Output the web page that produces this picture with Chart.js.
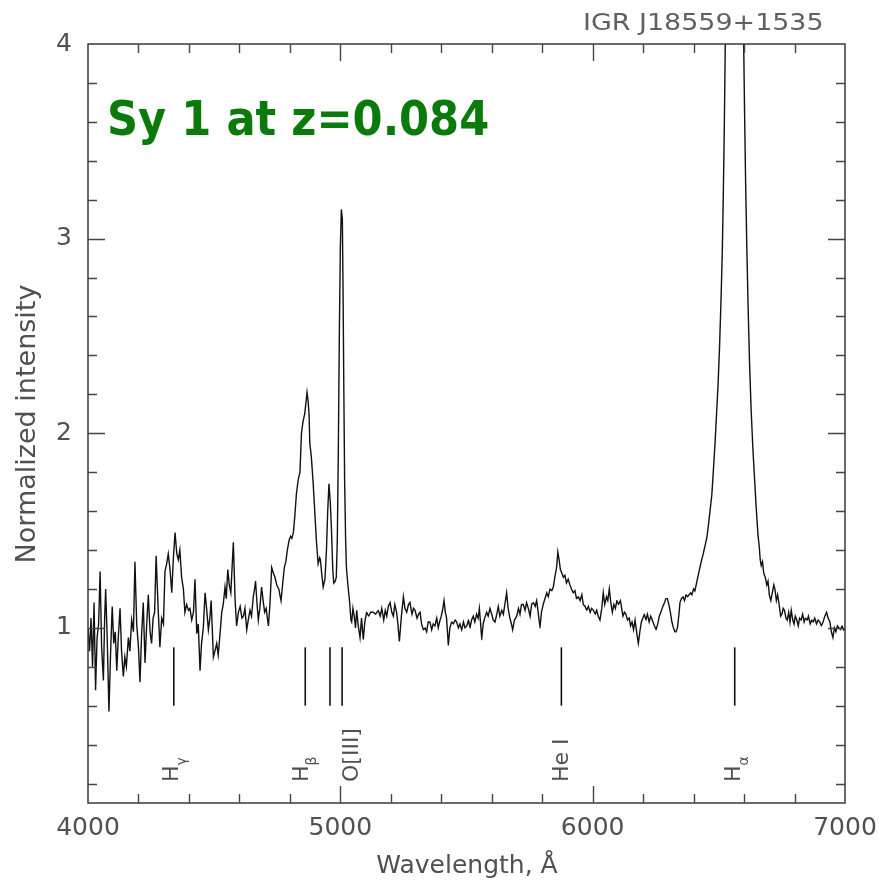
<!DOCTYPE html>
<html>
<head>
<meta charset="utf-8">
<script src="https://cdn.jsdelivr.net/npm/chart.js@4.4.0/dist/chart.umd.min.js"></script>
<style>
  html, body { margin: 0; padding: 0; background: #fff; }
  #wrap { width: 879px; height: 882px; }
</style>
</head>
<body>
<div id="wrap"><canvas id="spec" width="879" height="882"></canvas></div>
<script>
// Optical spectrum of IGR J18559+1535 (rest frame), normalized flux
const wavelength = [
  4000,4006,4012,4018,4024,4030,4036,4042,4048,4054,4061,4066,4070,4076,4083,4089,4096,4102,4108,4114,
  4120,4127,4133,4140,4146,4152,4160,4166,4173,4180,4186,4193,4200,4206,4212,4219,4226,4232,4239,4246,
  4252,4258,4264,4270,4278,4285,4292,4299,4305,4312,4318,4325,4332,4338,4345,4352,4358,4364,4371,4378,
  4384,4391,4398,4404,4411,4418,4424,4431,4437,4444,4450,4457,4464,4470,4477,4483,4488,4497,4503,4510,
  4516,4522,4530,4536,4543,4548,4554,4560,4566,4576,4583,4589,4596,4603,4610,4616,4622,4629,4635,4642,
  4648,4655,4660,4664,4670,4675,4681,4688,4694,4700,4706,4715,4721,4728,4735,4741,4748,4756,4765,4771,
  4778,4784,4790,4797,4803,4808,4814,4820,4826,4833,4840,4846,4852,4859,4864,4868,4872,4876,4879,4885,
  4892,4899,4905,4912,4918,4921,4926,4932,4939,4945,4950,4955,4960,4965,4970,4974,4980,4984,4988,4992,
  4996,5000,5004,5008,5011,5014,5017,5021,5024,5030,5037,5042,5045,5050,5055,5060,5065,5070,5078,5084,
  5091,5097,5104,5112,5120,5131,5140,5150,5158,5164,5172,5178,5184,5190,5197,5204,5210,5216,5223,5228,
  5234,5242,5250,5256,5263,5270,5276,5284,5290,5296,5304,5310,5316,5322,5329,5336,5342,5348,5355,5362,
  5368,5375,5382,5388,5395,5400,5405,5411,5416,5421,5428,5434,5441,5448,5455,5461,5468,5474,5481,5488,
  5494,5501,5508,5514,5520,5527,5533,5540,5546,5551,5556,5560,5566,5572,5580,5586,5593,5600,5606,5613,
  5620,5626,5632,5640,5646,5652,5659,5665,5672,5678,5683,5690,5699,5706,5712,5718,5725,5732,5738,5745,
  5752,5758,5765,5772,5778,5784,5791,5797,5804,5811,5818,5824,5831,5838,5844,5850,5857,5862,5867,5872,
  5878,5884,5890,5896,5903,5910,5916,5923,5930,5936,5943,5950,5957,5963,5970,5976,5983,5990,5996,6003,
  6010,6016,6022,6029,6036,6042,6048,6055,6060,6066,6072,6078,6084,6090,6096,6102,6110,6115,6120,6126,
  6132,6138,6145,6150,6156,6162,6168,6175,6181,6187,6193,6199,6205,6211,6217,6224,6230,6236,6242,6251,
  6258,6264,6270,6278,6285,6290,6296,6302,6308,6314,6320,6326,6330,6336,6342,6346,6352,6358,6364,6370,
  6376,6382,6388,6393,6400,6405,6410,6415,6420,6425,6432,6438,6445,6452,6458,6465,6472,6478,6485,6491,
  6497,6503,6509,6514,6518,6522,6526,6563,6598,6602,6606,6611,6616,6622,6628,6635,6641,6648,6655,6660,
  6664,6668,6673,6678,6684,6690,6695,6700,6706,6712,6718,6722,6728,6733,6739,6745,6750,6755,6760,6766,
  6771,6777,6782,6787,6793,6798,6803,6809,6815,6820,6826,6832,6838,6843,6850,6855,6862,6868,6874,6880,
  6887,6893,6900,6906,6913,6920,6927,6933,6940,6946,6952,6958,6964,6970,6976,6982,6988,6994,7000
];
const intensity = [
  1.00,0.88,1.05,0.80,1.13,0.68,0.95,1.02,1.29,0.90,0.73,1.05,1.20,0.95,0.57,0.85,1.11,0.92,0.98,0.78,
  0.95,1.10,0.88,0.75,0.85,0.80,0.95,0.88,1.04,0.98,1.34,1.02,0.90,0.72,0.95,1.13,0.82,1.00,1.17,0.98,
  0.92,1.05,1.08,1.37,1.10,0.90,1.05,1.02,1.29,1.33,1.38,1.30,1.18,1.35,1.49,1.38,1.35,1.40,1.26,1.20,
  1.08,1.12,1.09,1.10,1.04,1.08,1.25,0.97,1.02,0.78,0.92,1.00,1.18,1.10,0.99,1.05,1.14,0.85,0.88,0.92,
  0.86,0.95,1.08,1.12,1.21,1.15,1.30,1.22,1.18,1.44,1.14,1.01,1.08,1.11,1.05,1.06,1.10,0.99,1.04,1.09,
  1.06,1.16,1.20,1.24,1.12,1.04,1.10,1.21,1.14,1.08,1.10,1.01,1.12,1.31,1.28,1.26,1.22,1.20,1.14,1.22,
  1.31,1.34,1.40,1.45,1.47,1.46,1.49,1.58,1.69,1.76,1.80,2.00,2.06,2.10,2.16,2.21,2.17,2.10,1.95,1.88,
  1.75,1.59,1.45,1.33,1.36,1.35,1.28,1.21,1.25,1.40,1.60,1.74,1.65,1.50,1.30,1.23,1.24,1.26,1.45,1.90,
  2.50,2.95,3.15,3.10,2.70,2.20,1.76,1.45,1.31,1.22,1.13,1.04,1.03,1.10,1.06,1.00,1.09,1.02,0.95,1.05,
  0.94,1.03,1.08,1.06,1.08,1.08,1.07,1.09,1.06,1.10,1.04,1.09,1.06,1.11,1.13,1.08,1.06,1.12,1.08,1.02,
  0.93,1.06,1.16,1.10,1.08,1.12,1.13,1.07,1.10,1.09,1.05,1.07,1.08,1.02,0.99,1.00,0.98,1.03,1.03,0.99,
  1.02,1.01,1.05,1.00,1.04,1.06,1.09,1.14,1.08,1.05,0.91,1.00,1.03,1.02,1.04,1.03,1.00,1.02,0.99,1.03,
  1.00,1.01,1.04,1.00,1.04,1.06,1.03,1.07,1.05,1.10,1.02,0.94,1.02,1.05,1.08,1.06,1.10,1.07,1.04,1.03,
  1.07,1.11,1.06,1.09,1.07,1.12,1.18,1.10,1.05,1.02,0.99,1.04,1.06,1.10,1.07,1.12,1.12,1.09,1.13,1.10,
  1.06,1.12,1.13,1.11,1.14,1.08,1.00,1.08,1.12,1.15,1.18,1.16,1.20,1.19,1.21,1.26,1.31,1.39,1.35,1.30,
  1.28,1.26,1.27,1.23,1.25,1.22,1.20,1.18,1.19,1.15,1.16,1.14,1.17,1.12,1.11,1.09,1.11,1.08,1.10,1.09,
  1.07,1.09,1.06,1.04,1.10,1.18,1.12,1.16,1.14,1.20,1.13,1.08,1.12,1.10,1.14,1.12,1.14,1.10,1.06,1.08,
  1.07,1.04,1.05,1.01,1.03,0.99,1.04,0.97,0.92,0.98,1.03,1.05,1.07,1.04,1.07,1.03,1.06,1.04,1.02,0.99,
  1.02,1.06,1.08,1.11,1.13,1.15,1.15,1.12,1.08,1.03,1.00,0.98,0.98,1.00,1.07,1.13,1.15,1.16,1.14,1.17,
  1.16,1.17,1.18,1.17,1.20,1.19,1.22,1.25,1.28,1.31,1.35,1.38,1.42,1.46,1.52,1.60,1.68,1.80,1.95,2.10,
  2.25,2.45,2.70,2.95,3.25,3.60,4.05,8.00,4.05,3.65,3.30,2.95,2.65,2.35,2.12,1.92,1.78,1.62,1.48,1.42,
  1.35,1.32,1.34,1.28,1.26,1.22,1.24,1.17,1.14,1.18,1.22,1.20,1.14,1.17,1.12,1.06,1.07,1.10,1.09,1.05,
  1.04,1.08,1.03,1.09,1.04,1.02,1.06,1.04,1.01,1.05,1.04,1.07,1.03,1.05,1.04,1.06,1.02,1.04,1.03,1.05,
  1.02,1.04,1.03,1.01,1.03,1.06,1.08,1.05,1.03,0.98,0.95,1.00,0.98,1.01,1.00,0.99,1.01,0.99,1.00
];

// Identified emission lines (rest wavelengths, Å)
const markerWaves = [4340, 4861, 4959, 5007, 5876, 6563];
const markerLow = 0.6;
const markerHigh = 0.9;
const lineLabelText = ['H', 'H', 'O[III]', 'He I', 'H'];
const lineLabelSub = ['γ', 'β', '', '', 'α'];
const lineLabelWave = [4340, 4861, 5007, 5876, 6563];

// Axis ticks
const xTickValues = [4000,4200,4400,4600,4800,5000,5200,5400,5600,5800,6000,6200,6400,6600,6800,7000];
const xTickLabels = [4000, 5000, 6000, 7000];
const yTickValues = [0.2,0.4,0.6,0.8,1,1.2,1.4,1.6,1.8,2,2.2,2.4,2.6,2.8,3,3.2,3.4,3.6,3.8,4];
const yTickLabels = [1, 2, 3, 4];

const titleText = 'IGR J18559+1535';
const noteText = 'Sy 1 at z=0.084';
const xTitle = 'Wavelength, Å';
const yTitle = 'Normalized intensity';

const FONT = 'DejaVu Sans';
const GREY = '#505050';

// Frame, inward ticks on all four sides, and the annotation texts
const framePlugin = {
  id: 'frame',
  afterDatasetsDraw(chart) {
    const { ctx, chartArea: a, scales: { x, y } } = chart;
    ctx.save();
    ctx.strokeStyle = '#3a3a3a';
    ctx.lineWidth = 1.5;
    ctx.strokeRect(a.left, a.top, a.right - a.left, a.bottom - a.top);

    ctx.strokeStyle = '#444';
    ctx.lineWidth = 1.4;
    ctx.beginPath();
    xTickValues.forEach(v => {
      if (v <= x.min || v >= x.max) return;
      const px = Math.round(x.getPixelForValue(v)) + 0.5;
      const len = xTickLabels.includes(v) ? 17 : 9;
      ctx.moveTo(px, a.bottom); ctx.lineTo(px, a.bottom - len);
      ctx.moveTo(px, a.top); ctx.lineTo(px, a.top + len);
    });
    yTickValues.forEach(v => {
      if (v <= y.min || v >= y.max) return;
      const py = Math.round(y.getPixelForValue(v)) + 0.5;
      const len = yTickLabels.includes(v) ? 17 : 9;
      ctx.moveTo(a.left, py); ctx.lineTo(a.left + len, py);
      ctx.moveTo(a.right, py); ctx.lineTo(a.right - len, py);
    });
    ctx.stroke();

    // line identifications, written upwards
    const dxs = [4, 3, 16, 7, 5];
    ctx.fillStyle = GREY;
    ctx.textBaseline = 'alphabetic';
    ctx.textAlign = 'left';
    lineLabelText.forEach((t, i) => {
      const bx = x.getPixelForValue(lineLabelWave[i]) + dxs[i];
      ctx.save();
      ctx.translate(bx, 782);
      ctx.rotate(-Math.PI / 2);
      ctx.font = '22px "' + FONT + '"';
      ctx.fillText(t, 0, 0);
      if (lineLabelSub[i]) {
        const w = ctx.measureText(t).width;
        ctx.font = '14px "' + FONT + '"';
        ctx.fillText(lineLabelSub[i], w, 8);
      }
      ctx.restore();
    });

    // axis titles
    ctx.font = '25px "' + FONT + '"';
    ctx.textAlign = 'center';
    ctx.fillText(xTitle, 467, 873);
    ctx.save();
    ctx.translate(35, 424);
    ctx.rotate(-Math.PI / 2);
    ctx.font = '27px "' + FONT + '"';
    ctx.fillText(yTitle, 0, 0);
    ctx.restore();

    // object name, top right
    ctx.save();
    ctx.translate(583, 30);
    ctx.scale(1.17, 1);
    ctx.font = '23px "' + FONT + '"';
    ctx.textAlign = 'left';
    ctx.fillStyle = '#606060';
    ctx.fillText(titleText, 0, 0);
    ctx.restore();

    // classification note
    ctx.save();
    ctx.translate(107, 135);
    ctx.scale(0.9, 1);
    ctx.font = 'bold 48px "' + FONT + '"';
    ctx.textAlign = 'left';
    ctx.fillStyle = '#0a7a0a';
    ctx.fillText(noteText, 0, 0);
    ctx.restore();

    ctx.restore();
  }
};

const spectrum = wavelength.map((w, i) => ({ x: w, y: intensity[i] }));
const markerSets = markerWaves.map(w => ({
  data: [{ x: w, y: markerLow }, { x: w, y: markerHigh }],
  borderColor: '#111',
  borderWidth: 1.6,
  pointRadius: 0
}));

new Chart(document.getElementById('spec'), {
  type: 'line',
  data: {
    datasets: [
      // a tiny tension keeps every vertex (no per-pixel min/max path)
      { data: spectrum, borderColor: '#111', borderWidth: 1.4, pointRadius: 0, tension: 0.001 },
      ...markerSets
    ]
  },
  options: {
    responsive: false,
    animation: false,
    devicePixelRatio: 1,
    layout: { padding: { left: 0, top: 44, right: 34, bottom: 0 } },
    plugins: { legend: { display: false }, tooltip: { enabled: false } },
    scales: {
      x: {
        type: 'linear',
        min: 4000,
        max: 7000,
        afterBuildTicks: s => { s.ticks = xTickValues.map(v => ({ value: v })); },
        afterFit: s => { s.height = 79; s.paddingLeft = 0; s.paddingRight = 0; },
        grid: { display: false, drawTicks: false },
        border: { display: false },
        ticks: {
          autoSkip: false,
          maxRotation: 0,
          padding: 10,
          color: GREY,
          font: { family: FONT, size: 25 },
          callback: v => (xTickLabels.includes(v) ? String(v) : '')
        }
      },
      y: {
        type: 'linear',
        min: 0.1,
        max: 4,
        afterBuildTicks: s => { s.ticks = yTickValues.map(v => ({ value: v })); },
        afterFit: s => { s.width = 88; s.paddingTop = 0; s.paddingBottom = 0; },
        grid: { display: false, drawTicks: false },
        border: { display: false },
        ticks: {
          autoSkip: false,
          padding: 16,
          color: GREY,
          font: { family: FONT, size: 25 },
          callback: v => (yTickLabels.includes(v) ? String(v) : '')
        }
      }
    }
  },
  plugins: [framePlugin]
});
</script>
</body>
</html>
